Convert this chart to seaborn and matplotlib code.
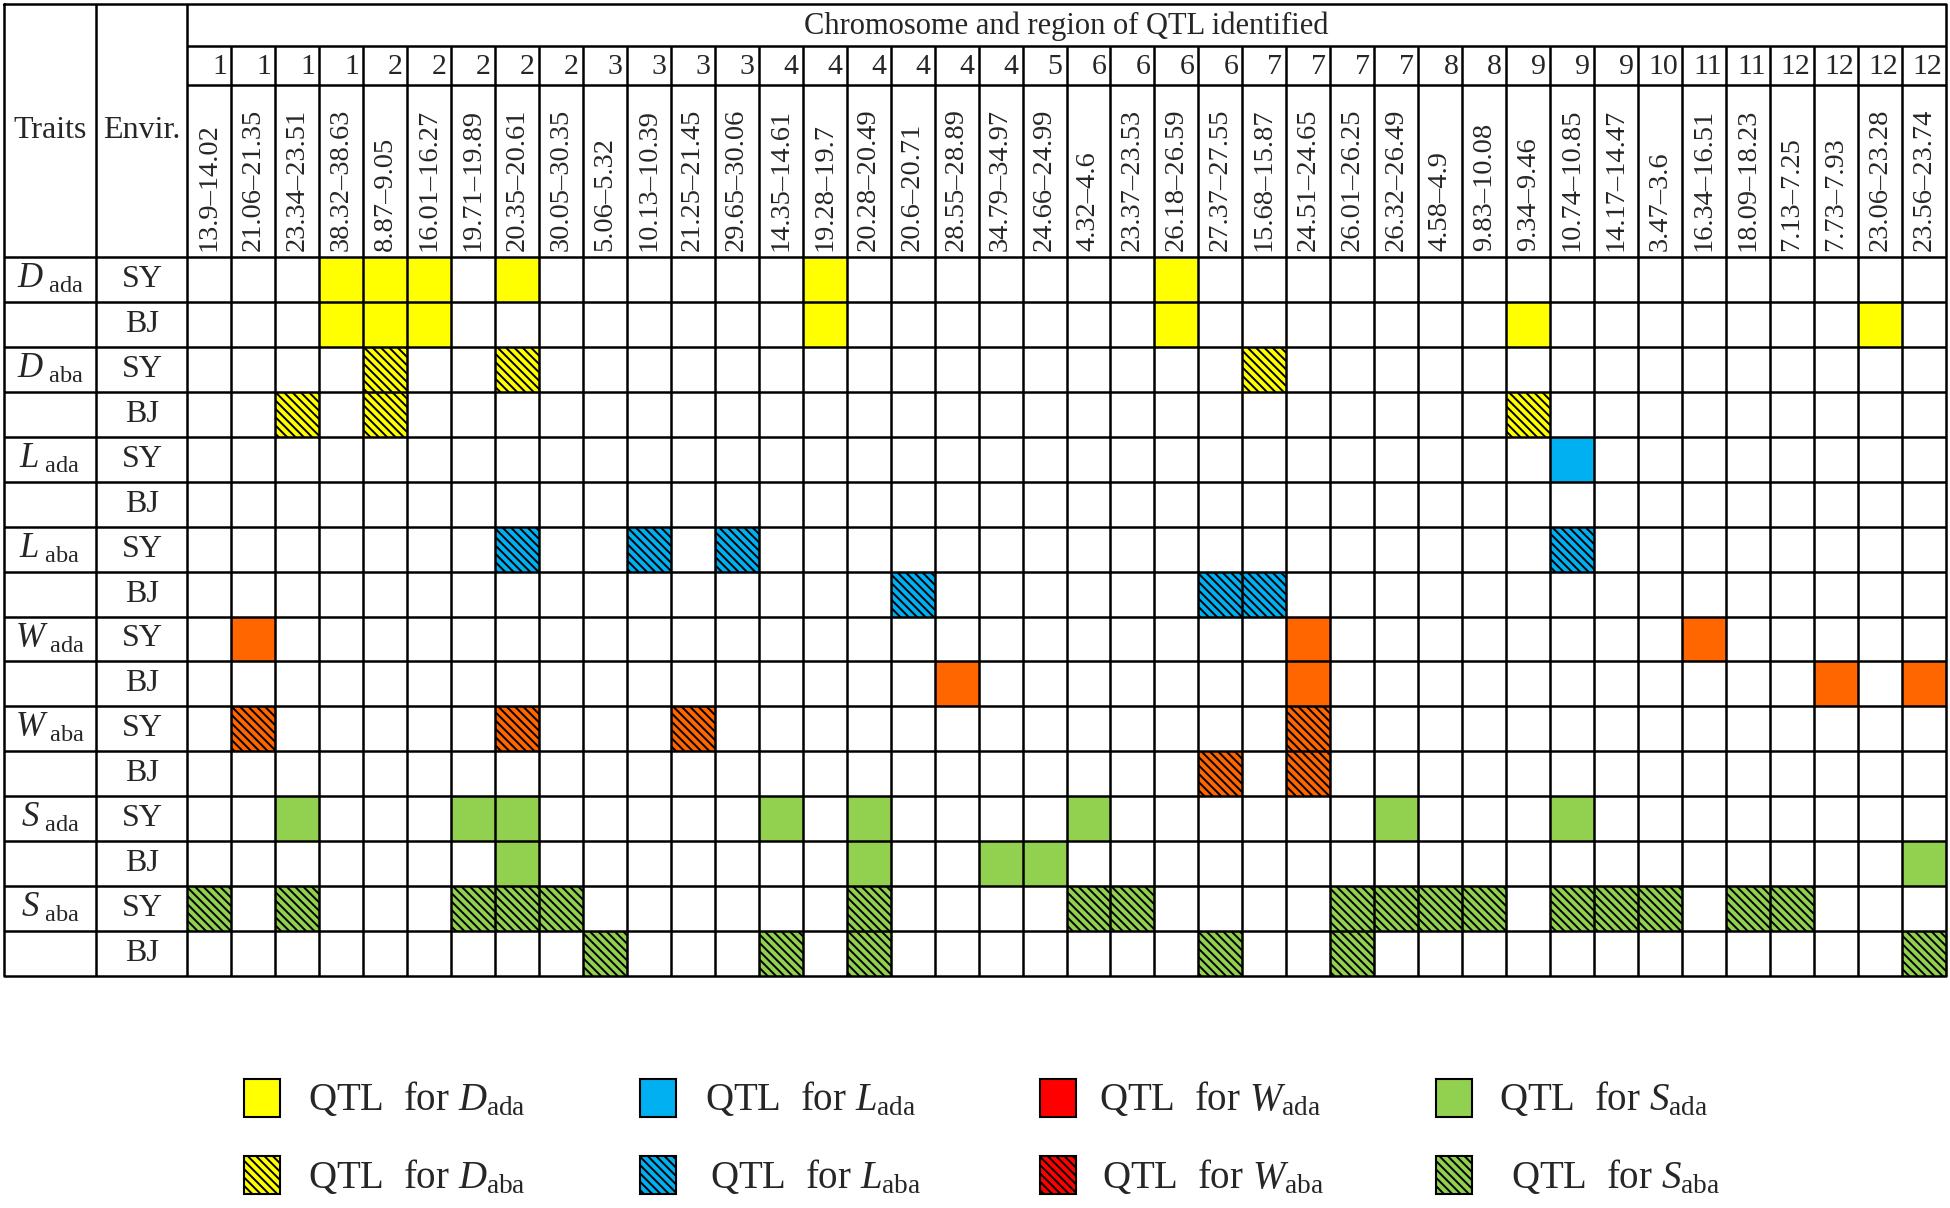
import matplotlib
matplotlib.use("Agg")
import matplotlib.pyplot as plt
import numpy as np
import seaborn as sns
from matplotlib.colors import ListedColormap
from matplotlib.patches import Rectangle

# chromosome and region (Mb) of each QTL column
chromosomes = [1, 1, 1, 1, 2, 2, 2, 2, 2, 3, 3, 3, 3, 4, 4, 4, 4, 4, 4, 5,
               6, 6, 6, 6, 7, 7, 7, 7, 8, 8, 9, 9, 9, 10, 11, 11, 12, 12, 12, 12]
regions = ["13.9–14.02", "21.06–21.35", "23.34–23.51", "38.32–38.63", "8.87–9.05",
           "16.01–16.27", "19.71–19.89", "20.35–20.61", "30.05–30.35", "5.06–5.32",
           "10.13–10.39", "21.25–21.45", "29.65–30.06", "14.35–14.61", "19.28–19.7",
           "20.28–20.49", "20.6–20.71", "28.55–28.89", "34.79–34.97", "24.66–24.99",
           "4.32–4.6", "23.37–23.53", "26.18–26.59", "27.37–27.55", "15.68–15.87",
           "24.51–24.65", "26.01–26.25", "26.32–26.49", "4.58–4.9", "9.83–10.08",
           "9.34–9.46", "10.74–10.85", "14.17–14.47", "3.47–3.6", "16.34–16.51",
           "18.09–18.23", "7.13–7.25", "7.73–7.93", "23.06–23.28", "23.56–23.74"]

traits = ["D", "L", "W", "S"]
kinds = ["ada", "aba"]
envs = ["SY", "BJ"]

# columns (1-based) where a QTL was found, one list per table row
qtl_columns = [
    [4, 5, 6, 8, 15, 23],                                      # D ada SY
    [4, 5, 6, 15, 23, 31, 39],                                 # D ada BJ
    [5, 8, 25],                                                # D aba SY
    [3, 5, 31],                                                # D aba BJ
    [32],                                                      # L ada SY
    [],                                                        # L ada BJ
    [8, 11, 13, 32],                                           # L aba SY
    [17, 24, 25],                                              # L aba BJ
    [2, 26, 35],                                               # W ada SY
    [18, 26, 38, 40],                                          # W ada BJ
    [2, 8, 12, 26],                                            # W aba SY
    [24, 26],                                                  # W aba BJ
    [3, 7, 8, 14, 16, 21, 28, 32],                             # S ada SY
    [8, 16, 19, 20, 40],                                       # S ada BJ
    [1, 3, 7, 8, 9, 16, 21, 22, 27, 28, 29, 30, 32, 33, 34, 36, 37],  # S aba SY
    [10, 14, 16, 24, 27, 40],                                  # S aba BJ
]

cell_colors = ["#FFFF00", "#00B0F0", "#FF6600", "#92D050"]
legend_colors = ["#FFFF00", "#00B0F0", "#FF0000", "#92D050"]
HATCH = "\\\\\\\\"

sns.set_theme(style="white")
plt.rcParams["font.family"] = ["Liberation Serif", "DejaVu Serif"]
plt.rcParams["mathtext.fontset"] = "custom"
plt.rcParams["mathtext.rm"] = "Liberation Serif"
plt.rcParams["mathtext.it"] = "Liberation Serif:italic"
plt.rcParams["mathtext.bf"] = "Liberation Serif:bold"
plt.rcParams["hatch.linewidth"] = 1.4

W, H = 1950, 1208
LEFT, TOP = 4, 4
SPLIT_TRAIT, X0, X1 = 96, 187, 1946
Y_TITLE, Y_CHROM, Y_GRID, Y_END = 46, 85, 257, 976
n_cols = len(chromosomes)
n_rows = len(qtl_columns)
col_w = (X1 - X0) / n_cols
row_h = (Y_END - Y_GRID) / n_rows

# code matrix: 0 empty, 1..4 trait colour
codes = np.zeros((n_rows, n_cols), dtype=int)
for r, cols in enumerate(qtl_columns):
    trait_idx = r // 4
    for c in cols:
        codes[r, c - 1] = trait_idx + 1

fig = plt.figure(figsize=(W / 100, H / 100), dpi=100)
fig.patch.set_facecolor("white")

grid_ax = fig.add_axes([X0 / W, 1 - Y_END / H, (X1 - X0) / W, (Y_END - Y_GRID) / H])
sns.heatmap(codes, ax=grid_ax, cmap=ListedColormap(["white"] + cell_colors),
            vmin=-0.5, vmax=4.5, cbar=False, xticklabels=False, yticklabels=False)

for r, cols in enumerate(qtl_columns):
    if (r // 2) % 2 == 1:  # aba rows are hatched
        for c in cols:
            grid_ax.add_patch(Rectangle((c - 1, r), 1, 1, facecolor="none",
                                        edgecolor="black", linewidth=0, hatch=HATCH))
grid_ax.set_xlim(0, n_cols)
grid_ax.set_ylim(n_rows, 0)

ax = fig.add_axes([0, 0, 1, 1])
ax.set_xlim(0, W)
ax.set_ylim(H, 0)
ax.set_axis_off()

LW = 1.8
# outer frame and fixed lines
ax.plot([LEFT, X1, X1, LEFT, LEFT], [TOP, TOP, Y_END, Y_END, TOP], color="black", lw=LW)
ax.vlines([SPLIT_TRAIT, X0], TOP, Y_END, color="black", lw=LW)
ax.hlines([Y_TITLE, Y_CHROM], X0, X1, color="black", lw=LW)
col_edges = X0 + col_w * np.arange(1, n_cols)
ax.vlines(col_edges, Y_TITLE, Y_END, color="black", lw=LW)
row_edges = Y_GRID + row_h * np.arange(0, n_rows)
ax.hlines(row_edges, LEFT, X1, color="black", lw=LW)

# header
ax.text((X0 + X1) / 2, (TOP + Y_TITLE) / 2 + 1, "Chromosome and region of QTL identified",
        ha="center", va="center", fontsize=22)
ax.text((LEFT + SPLIT_TRAIT) / 2, 131, "Traits", ha="center", va="center", fontsize=23)
ax.text((SPLIT_TRAIT + X0) / 2, 131, "Envir.", ha="center", va="center", fontsize=23)
for i, (ch, reg) in enumerate(zip(chromosomes, regions)):
    x_left = X0 + i * col_w
    ax.text(x_left + col_w - 4, (Y_TITLE + Y_CHROM) / 2 + 1, str(ch),
            ha="right", va="center", fontsize=21.5)
    ax.text(x_left + col_w / 2, Y_GRID - 6, reg, rotation=90,
            ha="center", va="bottom", fontsize=20.5)

# row labels
for r in range(n_rows):
    yc = Y_GRID + (r + 0.5) * row_h
    trait = traits[r // 4]
    kind = kinds[(r // 2) % 2]
    env = envs[r % 2]
    if r % 2 == 0:
        ax.text((LEFT + SPLIT_TRAIT) / 2, yc, rf"$\mathit{{{trait}}}_{{\ \mathrm{{{kind}}}}}$",
                ha="center", va="center", fontsize=25)
    ax.text((SPLIT_TRAIT + X0) / 2 + 1, yc, env, ha="center", va="center", fontsize=23)

# legend
legend_x = [244, 640, 1040, 1436]
legend_text_x = [[308, 705, 1099, 1499], [308, 710, 1102, 1511]]
legend_y = [1098, 1175]
for j, kind in enumerate(kinds):
    for i, trait in enumerate(traits):
        ax.add_patch(Rectangle((legend_x[i], legend_y[j] - 19), 36, 38,
                               facecolor=legend_colors[i], edgecolor="black", lw=1.5,
                               hatch=HATCH if kind == "aba" else None))
        ax.text(legend_text_x[j][i], legend_y[j] + 2,
                rf"QTL  for $\mathit{{{trait}}}_{{\mathrm{{{kind}}}}}$",
                ha="left", va="center", fontsize=28)

fig.savefig("out.png", dpi=100, facecolor="white")
